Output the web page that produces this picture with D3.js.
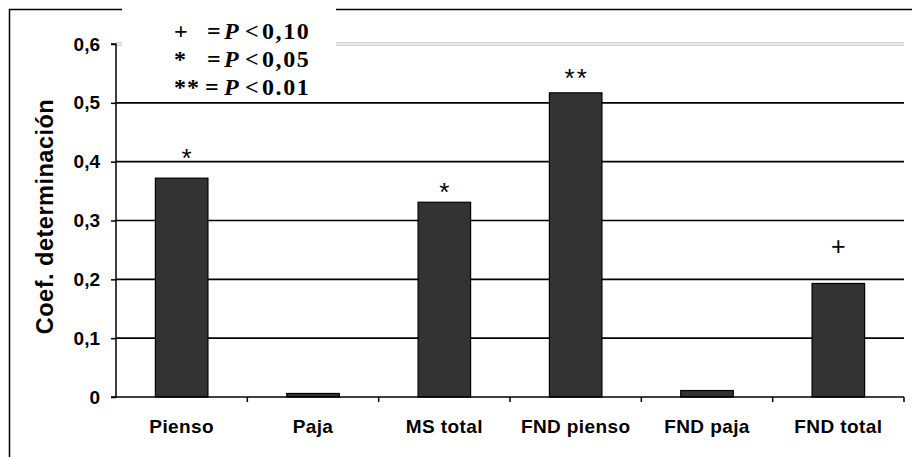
<!DOCTYPE html>
<html>
<head>
<meta charset="utf-8">
<script src="https://cdn.jsdelivr.net/npm/d3@7"></script>
<style>
  body { margin: 0; background: #fff; }
  svg { display: block; }
</style>
</head>
<body>
<svg id="chart" width="912" height="457"></svg>
<script>
const categories = ["Pienso", "Paja", "MS total", "FND pienso", "FND paja", "FND total"];
const values = [0.372, 0.006, 0.331, 0.517, 0.011, 0.193];
const marks = ["*", "", "*", "**", "", "+"];
const markLevels = [0.418, 0, 0.360, 0.553, 0, 0.257];
const yTicks = [0, 0.1, 0.2, 0.3, 0.4, 0.5, 0.6];
const yTickLabels = ["0", "0,1", "0,2", "0,3", "0,4", "0,5", "0,6"];
const legendSymbols = ["+", "*", "**"];
const legendThresholds = ["0,10", "0,05", "0.01"];

const svg = d3.select("#chart");
const W = 912, H = 457;
const pLeft = 116, pRight = 904, pTop = 44, pBottom = 397;
const sans = "Liberation Sans, Arial, sans-serif";

const x = d3.scaleBand().domain(categories).range([pLeft, pRight]).paddingInner(0.6).paddingOuter(0.3);
const xb = d3.scaleBand().domain(categories).range([pLeft, pRight]);
const y = d3.scaleLinear().domain([0, 0.6]).range([pBottom, pTop]);

// outer border
svg.append("path")
  .attr("d", `M9.5,${H + 5}V9.5H${W + 5}`)
  .attr("fill", "none").attr("stroke", "#000").attr("stroke-width", 1.5);

// gridlines
yTicks.forEach((t, i) => {
  if (t === 0) return;
  if (t === 0.6) {
    [-1.2, 1.2].forEach(o => {
      svg.append("line").attr("x1", pLeft).attr("x2", pRight)
        .attr("y1", y(t) + o).attr("y2", y(t) + o)
        .attr("stroke", "#bdbdbd").attr("stroke-width", 1);
    });
  } else {
    svg.append("line").attr("x1", pLeft).attr("x2", pRight)
      .attr("y1", y(t)).attr("y2", y(t))
      .attr("stroke", "#000").attr("stroke-width", 1.6);
  }
});

// y axis
const yAxis = d3.axisLeft(y).tickValues(yTicks).tickFormat((d, i) => yTickLabels[i]).tickSize(5).tickPadding(11);
const gy = svg.append("g").attr("transform", `translate(${pLeft},0)`).call(yAxis);
gy.select(".domain").attr("stroke", "#000").attr("stroke-width", 1.5).attr("d", `M-5,${pTop}H0V${pBottom}H-5`);
gy.selectAll(".tick line").attr("stroke", "#000").attr("stroke-width", 1.5);
gy.selectAll(".tick text").attr("font-family", sans)
  .attr("font-weight", "bold").attr("font-size", 19).attr("fill", "#000");

// bars
svg.selectAll("rect.bar").data(categories).enter().append("rect")
  .attr("class", "bar")
  .attr("x", d => x(d))
  .attr("width", x.bandwidth())
  .attr("y", (d, i) => y(values[i]))
  .attr("height", (d, i) => y(0) - y(values[i]))
  .attr("fill", "#333333").attr("stroke", "#000").attr("stroke-width", 1.2);

// x axis
const xAxis = d3.axisBottom(xb).tickSize(0).tickPadding(23);
const gx = svg.append("g").attr("transform", `translate(0,${pBottom})`).call(xAxis);
gx.select(".domain").attr("stroke", "#000").attr("stroke-width", 1.5).attr("d", `M${pLeft},0H${pRight}`);
gx.selectAll(".tick text").attr("font-family", sans)
  .attr("font-weight", "bold").attr("font-size", 19).attr("letter-spacing", 0.4).attr("fill", "#000");
// category boundary ticks
categories.forEach((c, i) => {
  const bx = xb(c) + xb.bandwidth();
  svg.append("line").attr("x1", bx).attr("x2", bx).attr("y1", pBottom).attr("y2", pBottom + 5)
    .attr("stroke", "#000").attr("stroke-width", 1.5);
});

// significance marks
svg.selectAll("text.mark").data(categories).enter().append("text")
  .attr("class", "mark")
  .attr("x", (d, i) => x(d) + x.bandwidth() / 2 + (i === 0 ? 6 : 1))
  .attr("y", (d, i) => y(markLevels[i]))
  .attr("dy", (d, i) => marks[i] === "+" ? "0.35em" : "0.6em")
  .attr("text-anchor", "middle")
  .attr("font-family", sans)
  .attr("font-size", (d, i) => marks[i] === "+" ? 25 : 26)
  .attr("letter-spacing", 2)
  .attr("fill", "#000")
  .text((d, i) => marks[i]);

// y title
svg.append("text")
  .attr("transform", `translate(53,${(pTop + pBottom) / 2 - 4}) rotate(-90)`)
  .attr("text-anchor", "middle")
  .attr("font-family", sans)
  .attr("font-weight", "bold").attr("font-size", 23.5).attr("letter-spacing", 0.5).attr("fill", "#000")
  .text("Coef. determinación");

// legend box
svg.append("rect").attr("x", 122).attr("y", 0).attr("width", 214).attr("height", 97).attr("fill", "#fff");
const lg = svg.append("g")
  .attr("font-family", "Liberation Serif, Times New Roman, serif")
  .attr("font-weight", "bold").attr("font-size", 24).attr("fill", "#000");
legendSymbols.forEach((s, i) => {
  const t = lg.append("text").attr("y", 39 + i * 28);
  t.append("tspan").attr("x", 174).attr("letter-spacing", 1).text(s);
  t.append("tspan").attr("x", i === 2 ? 205 : 207).text("=");
  t.append("tspan").attr("x", 224).attr("font-style", "italic").text("P");
  t.append("tspan").attr("x", 245).text("<");
  t.append("tspan").attr("x", 262).attr("letter-spacing", 1.6).text(legendThresholds[i]);
});
// clip last legend row as in reference
svg.append("rect").attr("x", 122).attr("y", 97).attr("width", 214).attr("height", 5).attr("fill", "#fff");
</script>
</body>
</html>
